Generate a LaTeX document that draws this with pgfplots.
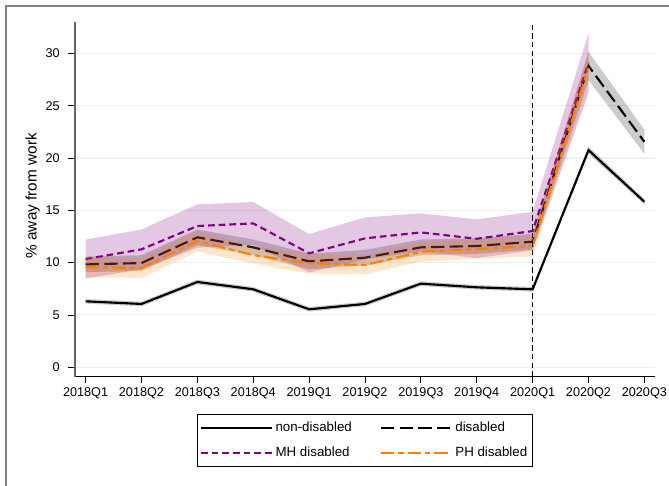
\documentclass[border=0pt]{standalone}
\usepackage{pgfplots}
\pgfplotsset{compat=1.18}
\usepackage{fontspec}
\setmainfont{Liberation Sans}
\definecolor{mhpurple}{RGB}{128,0,128}
\definecolor{phorange}{RGB}{255,127,0}
\definecolor{gridc}{RGB}{234,242,243}
\begin{document}
\begin{tikzpicture}
\useasboundingbox (0,0) rectangle (501.75pt,364.5pt);
\draw[gray, line width=1.1pt] (4.5pt,0) -- (4.5pt,360pt) -- (502pt,360pt);
\begin{axis}[
  at={(56.25pt,82pt)}, anchor=south west,
  width=435pt, height=266pt, scale only axis,
  xmin=-0.19, xmax=10.19, ymin=-0.9, ymax=33,
  axis x line*=bottom, axis y line*=left,
  axis line style={-, line width=0.8pt},
  y axis line style={gray!80!black},
  tick align=outside, major tick length=5pt,
  tick style={black, line width=0.6pt},
  xtick={0,...,10},
  xticklabels={2018Q1,2018Q2,2018Q3,2018Q4,2019Q1,2019Q2,2019Q3,2019Q4,2020Q1,2020Q2,2020Q3},
  ytick={0,5,...,30},
  ymajorgrids, grid style={gridc, line width=0.8pt},
  /pgf/number format/assume math mode=true,
  ticklabel style={font=\fontsize{9.5}{11}\selectfont},
  yticklabel style={xshift=-3pt},
  ylabel={\% away from work},
  every axis y label/.style={at={(axis description cs:-0.073,0.51)},rotate=90,anchor=center,font=\fontsize{11.5}{13}\selectfont},
  legend columns=2,
  legend cell align=left,
  legend image code/.code={\draw[#1] (0pt,0pt) -- (47pt,0pt); \path (0pt,0pt) -- (53pt,0pt);},
  legend style={at={(axis description cs:0.5,-0.18)}, anchor=center, draw=black, line width=0.6pt,
    font=\fontsize{10}{12}\selectfont, inner xsep=2pt, inner ysep=4pt,
    /tikz/every even column/.append style={column sep=19pt},
    row sep=6pt},
]
% non-disabled CI
\addplot[forget plot, draw=none, fill=black, fill opacity=0.2] coordinates {
(0,6.52) (1,6.27) (2,8.37) (3,7.67) (4,5.76) (5,6.27) (6,8.21) (7,7.86) (8,7.67) (9,21.10) (10,16.07)
(10,15.57) (9,20.40) (8,7.23) (7,7.42) (6,7.77) (5,5.83) (4,5.32) (3,7.23) (2,7.93) (1,5.83) (0,6.08)} -- cycle;
\addplot[black, line width=1.6pt] coordinates {
(0,6.30) (1,6.05) (2,8.15) (3,7.45) (4,5.54) (5,6.05) (6,7.99) (7,7.64) (8,7.45) (9,20.75) (10,15.82)};
\addlegendentry{non-disabled}
% disabled CI
\addplot[forget plot, draw=none, fill=black, fill opacity=0.2] coordinates {
(0,10.58) (1,10.71) (2,13.17) (3,12.21) (4,10.87) (5,11.22) (6,12.21) (7,12.34) (8,12.75) (9,30.15) (10,22.70)
(10,20.40) (9,27.45) (8,11.25) (7,10.84) (6,10.71) (5,9.72) (4,9.37) (3,10.71) (2,11.67) (1,9.21) (0,9.08)} -- cycle;
\addplot[black, line width=1.6pt, dash pattern=on 10pt off 4pt] coordinates {
(0,9.83) (1,9.96) (2,12.42) (3,11.46) (4,10.12) (5,10.47) (6,11.46) (7,11.59) (8,12.00) (9,28.80) (10,21.55)};
\addlegendentry{disabled}
% MH CI
\addplot[forget plot, draw=none, fill=mhpurple, fill opacity=0.22] coordinates {
(0,12.20) (1,13.17) (2,15.57) (3,15.79) (4,12.73) (5,14.32) (6,14.71) (7,14.13) (8,14.86) (9,31.90)
(9,26.20) (8,11.18) (7,10.43) (6,11.07) (5,10.32) (4,9.05) (3,11.71) (2,11.43) (1,9.37) (0,8.48)} -- cycle;
\addplot[mhpurple, line width=1.6pt, dash pattern=on 5pt off 3pt] coordinates {
(0,10.34) (1,11.27) (2,13.50) (3,13.75) (4,10.89) (5,12.32) (6,12.89) (7,12.28) (8,13.02) (9,29.10)};
\addlegendentry{MH disabled}
% PH CI
\addplot[forget plot, draw=none, fill=phorange, fill opacity=0.2] coordinates {
(0,10.53) (1,10.43) (2,13.06) (3,11.52) (4,10.88) (5,10.67) (6,11.99) (7,12.20) (8,12.59) (9,30.20)
(9,26.80) (8,10.59) (7,10.40) (6,10.09) (5,8.87) (4,8.98) (3,9.92) (2,11.06) (1,8.53) (0,8.63)} -- cycle;
\addplot[phorange, line width=1.6pt, dash pattern=on 10pt off 3pt on 4pt off 3pt] coordinates {
(0,9.58) (1,9.48) (2,12.06) (3,10.72) (4,9.93) (5,9.77) (6,11.04) (7,11.30) (8,11.59) (9,28.60)};
\addlegendentry{PH disabled}
% vertical line
\addplot[forget plot, black, line width=0.8pt, dash pattern=on 4pt off 2.5pt] coordinates {(8,-0.9) (8,33)};
\end{axis}
\end{tikzpicture}
\end{document}
